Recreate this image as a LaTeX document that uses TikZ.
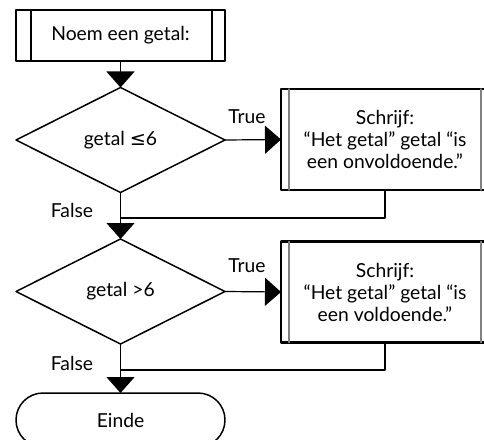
\documentclass[tikz,border=0pt]{standalone}
\usepackage{fontspec}
\setmainfont{Lato}
\newfontfamily\symfont{DejaVu Sans}
\usetikzlibrary{arrows.meta,shapes.geometric,shapes.misc}

\begin{document}
\begin{tikzpicture}[
	x=1pt,y=-1pt,
	>={Triangle[width=28pt,length=16pt]},
	line cap=round,
	line join=round,
	font=\fontsize{19.3}{22}\selectfont,
	invoer/.style={draw,line width=1.5pt,outer sep=0pt,inner sep=0pt,minimum width=209pt,minimum height=51pt},
	keuze/.style={diamond,draw,line width=1.5pt,outer sep=0pt,inner sep=0pt,minimum width=209pt,minimum height=105pt},
	uitvoer/.style={draw,line width=2.5pt,outer sep=0pt,inner sep=0pt,minimum width=208pt,minimum height=101pt,align=center},
	eind/.style={rounded rectangle,draw,line width=1.5pt,outer sep=0pt,inner sep=0pt,minimum width=209pt,minimum height=54pt},
	pijl/.style={->,line width=1.2pt},
	lijn/.style={line width=1.2pt},
	binnen/.style={line width=1.5pt,gray}
	]
	\useasboundingbox (0,0) rectangle (484,439);
	% blokken
	\node[invoer] (vraag) at (120.5,35.5) {Noem een getal:};
	\node[keuze] (keuze1) at (120.5,140) {getal {\symfont≤}6};
	\node[uitvoer] (schrijf1) at (385,139.5) {Schrijf:\\``Het getal'' getal ``is\\een onvoldoende.''};
	\node[keuze] (keuze2) at (120.5,291.5) {getal >6};
	\node[uitvoer] (schrijf2) at (385,292) {Schrijf:\\``Het getal'' getal ``is\\een voldoende.''};
	\node[eind] (einde) at (120.5,420) {Einde};
	% dubbele zijlijnen
	\draw[line width=1.5pt] ([xshift=15pt]vraag.north west) -- ([xshift=15pt]vraag.south west);
	\draw[line width=1.5pt] ([xshift=-13pt]vraag.north east) -- ([xshift=-13pt]vraag.south east);
	\foreach \blok in {schrijf1,schrijf2} {
		\draw[binnen] ([xshift=8pt]\blok.north west) -- ([xshift=8pt]\blok.south west);
		\draw[binnen] ([xshift=-8pt]\blok.north east) -- ([xshift=-8pt]\blok.south east);
	}
	% verbindingen
	\coordinate (samen1) at (120.5,218);
	\coordinate (samen2) at (120.5,370);
	\draw[pijl] (vraag) -- (keuze1);
	\draw[pijl] (keuze1.east) -- (schrijf1.west);
	\draw[lijn] (keuze1.south) -- (samen1);
	\draw[lijn] (schrijf1.south) -- (schrijf1.south |- samen1) -- (samen1);
	\draw[pijl] (samen1) -- (keuze2.north);
	\draw[pijl] (keuze2.east) -- (schrijf2.west);
	\draw[lijn] (keuze2.south) -- (samen2);
	\draw[lijn] (schrijf2.south) -- (schrijf2.south |- samen2) -- (samen2);
	\draw[pijl] (samen2) -- (einde.north);
	% labels
	\node (waar1) at (247,117) {True};
	\node (onwaar1) at (72,210) {False};
	\node (waar2) at (247,266) {True};
	\node (onwaar2) at (72,363) {False};
\end{tikzpicture}
\end{document}
